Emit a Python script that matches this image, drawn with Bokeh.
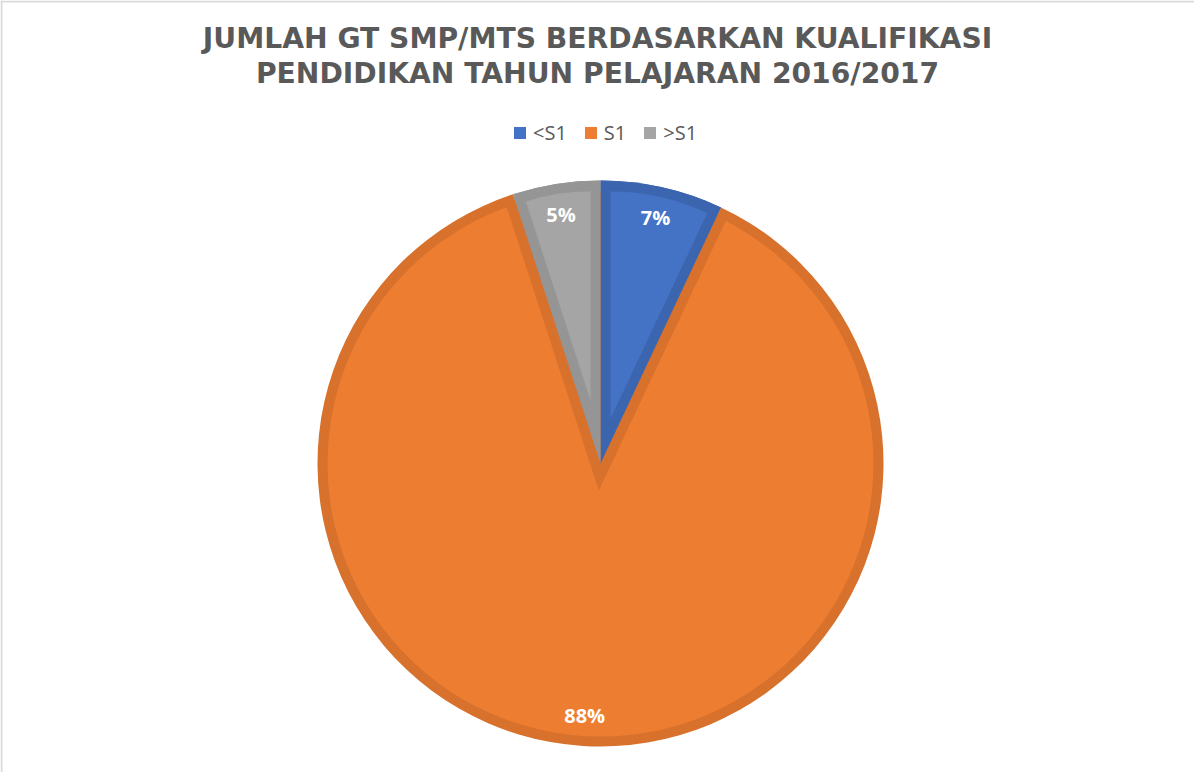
import numpy as np
from bokeh.plotting import figure
from bokeh.models import Range1d, Label, Legend, LegendItem, Span, ColumnDataSource
from bokeh.core.properties import value
from bokeh.embed import file_html
from bokeh.resources import INLINE

# ---- data ----
categories = ["<S1", "S1", ">S1"]
values = [7, 88, 5]
fill_colors = ["#4472C4", "#ED7D31", "#A5A5A5"]
edge_colors = ["#3B65AF", "#D7712C", "#959595"]
title_lines = ["JUMLAH GT SMP/MTS BERDASARKAN KUALIFIKASI",
               "PENDIDIKAN TAHUN PELAJARAN 2016/2017"]

# ---- layout constants (pixels) ----
W, H = 1194, 772
CX, CY = 600, 309
R = 283
B = 10
LAB_R = 252

p = figure(width=W, height=H, x_range=Range1d(0, W), y_range=Range1d(0, H),
           output_backend="svg", toolbar_location=None, min_border=0,
           background_fill_color="white", border_fill_color="white")
p.axis.visible = False
p.grid.visible = False
p.outline_line_color = None

vals = np.array(values, dtype=float)
frac = vals / vals.sum()
cum = np.concatenate([[0.0], np.cumsum(frac)])
start = np.pi / 2 - cum[:-1] * 2 * np.pi
end = np.pi / 2 - cum[1:] * 2 * np.pi
mid = (start + end) / 2
half = frac * np.pi

# 1. full slices in edge colour
src = ColumnDataSource(dict(x=[CX] * 3, y=[CY] * 3, start=start, end=end,
                            color=edge_colors, cat=categories))
p.wedge(x="x", y="y", radius=R, start_angle="start", end_angle="end",
        direction="clock", fill_color="color", line_color=None, source=src)

# 2. large slice interior (fill colour)
big = int(np.argmax(frac))
small = [i for i in range(3) if i != big]
r_big = p.wedge(x=CX, y=CY, radius=R - B, start_angle=start[big], end_angle=end[big],
                direction="clock", fill_color=fill_colors[big], line_color=None)

# 3. border band of large slice along its straight edges: dilated complement sector
c_start = end[big]
c_end = start[big] - 2 * np.pi
c_mid = (c_start + c_end) / 2
c_half = (1 - frac[big]) * np.pi
sh = B / np.sin(c_half)
p.wedge(x=CX - sh * np.cos(c_mid), y=CY - sh * np.sin(c_mid), radius=R - B + sh,
        start_angle=c_start, end_angle=c_end, direction="clock",
        fill_color=edge_colors[big], line_color=None)

# 4. small slices again in edge colour, then their inset interiors
renderers = {big: r_big}
for i in small:
    p.wedge(x=CX, y=CY, radius=R, start_angle=start[i], end_angle=end[i],
            direction="clock", fill_color=edge_colors[i], line_color=None)
    s = B / np.sin(half[i])
    renderers[i] = p.wedge(x=CX + s * np.cos(mid[i]), y=CY + s * np.sin(mid[i]),
                           radius=R - B - s, start_angle=start[i], end_angle=end[i],
                           direction="clock", fill_color=fill_colors[i], line_color=None)

# data labels
pct = [f"{round(f * 100):d}%" for f in frac]
p.text(x=CX + LAB_R * np.cos(mid), y=CY + LAB_R * np.sin(mid), text=pct,
       text_color="white", text_font=value("Open Sans"), text_font_style="bold",
       text_font_size="20px", text_align="center", text_baseline="middle")

# title
for k, line in enumerate(title_lines):
    p.add_layout(Label(x=W / 2, y=H - 38 - 35 * k, x_units="screen", y_units="screen",
                       text=line, text_font="DejaVu Sans", text_font_style="bold",
                       text_font_size="28.2px", text_color="#595959",
                       text_align="center", text_baseline="alphabetic"))

# legend
legend = Legend(items=[LegendItem(label=categories[i], renderers=[renderers[i]]) for i in range(3)],
                orientation="horizontal", location=(512, 626),
                glyph_width=15, glyph_height=15, label_standoff=6, spacing=16,
                padding=0, margin=0, border_line_color=None, background_fill_alpha=0,
                label_text_font="Open Sans", label_text_font_size="20px",
                label_text_color="#595959")
p.add_layout(legend, "center")

# chart area border (left and top edges visible)
p.add_layout(Span(location=1, dimension="height", line_color="#D9D9D9", line_width=2))
p.add_layout(Span(location=H - 1, dimension="width", line_color="#D9D9D9", line_width=2))

open("out.html", "w").write(file_html(p, INLINE))
